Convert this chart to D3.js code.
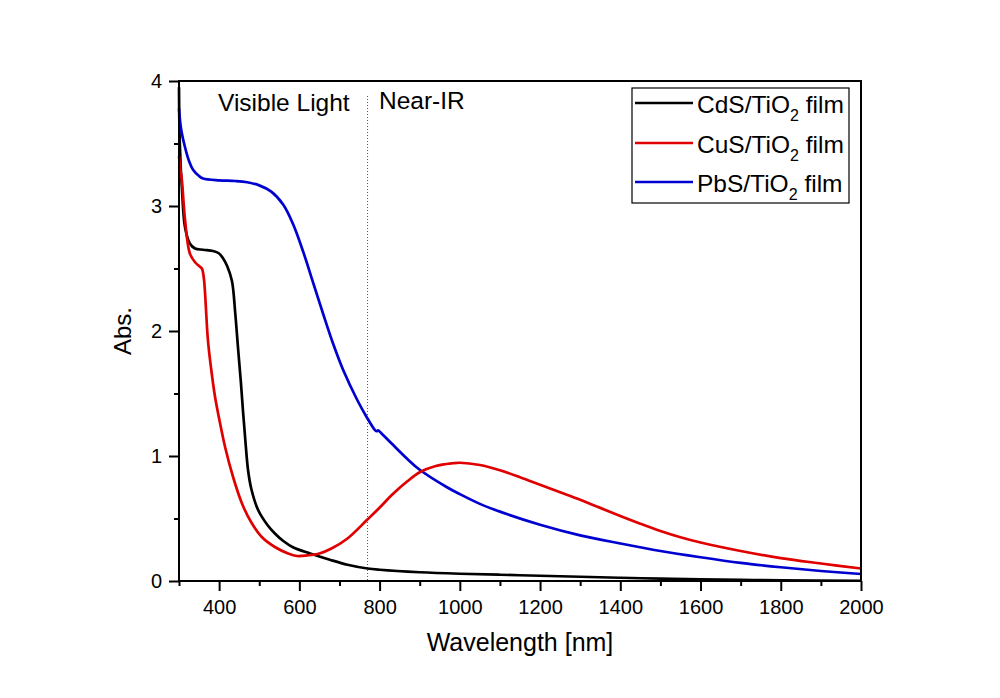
<!DOCTYPE html>
<html><head><meta charset="utf-8">
<script src="https://cdn.jsdelivr.net/npm/d3@7"></script>
<style>
html,body{margin:0;padding:0;background:#fff;}
svg{display:block;font-family:"Liberation Sans",Arial,sans-serif;}
</style></head>
<body><svg id="c" width="1000" height="698"></svg>
<script>
// ---- data ----
const seriesNames = ["CdS/TiO", "CuS/TiO", "PbS/TiO"];
const seriesColors = ["#000000", "#e00000", "#0000d0"];
const cdsWl  = [300,302,308,315,327,340,360,385,400,410,420,432,440,447,454,460,466,472,480,497,520,539,560,584,627,676,720,770,800,900,1000,1100,1200,1300,1400,1500,1600,1700,1800,2000];
const cdsAbs = [3.95,3.5,3.1,2.83,2.70,2.66,2.65,2.64,2.62,2.58,2.52,2.40,2.15,1.87,1.60,1.34,1.10,0.89,0.74,0.57,0.45,0.38,0.32,0.27,0.22,0.17,0.13,0.10,0.09,0.07,0.058,0.05,0.042,0.034,0.026,0.019,0.013,0.009,0.005,0.002];
const cusWl  = [300,303,307,315,327,340,350,357,362,365,372,380,390,400,415,435,457,480,507,540,572,594,620,650,680,720,769,801,831,870,900,940,983,1000,1050,1100,1150,1200,1250,1300,1350,1400,1450,1500,1550,1600,1700,1800,1900,2000];
const cusAbs = [3.40,3.30,3.21,2.89,2.62,2.55,2.52,2.50,2.42,2.30,1.93,1.70,1.47,1.30,1.07,0.83,0.62,0.47,0.35,0.27,0.22,0.20,0.205,0.22,0.26,0.34,0.49,0.59,0.69,0.80,0.87,0.92,0.942,0.946,0.928,0.886,0.83,0.77,0.71,0.65,0.585,0.52,0.458,0.40,0.35,0.308,0.24,0.183,0.14,0.10];
const pbsWl  = [300,305,315,325,335,350,360,400,440,470,500,530,560,585,610,635,659,684,709,744,768,789,793,796,805,830,868,900,968,1000,1050,1100,1200,1300,1400,1500,1600,1700,1800,1900,2000];
const pbsAbs = [3.78,3.62,3.47,3.36,3.29,3.24,3.22,3.205,3.20,3.19,3.165,3.115,3.01,2.85,2.63,2.38,2.14,1.90,1.69,1.45,1.31,1.205,1.198,1.205,1.18,1.10,0.98,0.89,0.75,0.695,0.617,0.555,0.45,0.365,0.30,0.24,0.19,0.145,0.11,0.08,0.056];
const xMajor = [400,600,800,1000,1200,1400,1600,1800,2000];
const xMinor = [300,500,700,900,1100,1300,1500,1700,1900];
const yMajor = [0,1,2,3,4];
const yMinor = [0.5,1.5,2.5,3.5];
const boundaryWl = 770;
const regionLabels = ["Visible Light", "Near-IR"];

// ---- layout ----
const svg = d3.select("#c");
const L = 179, R = 861, T = 81, B = 581;
const x = d3.scaleLinear().domain([300, 2000]).range([L, R]);
const y = d3.scaleLinear().domain([0, 4]).range([B, T]);

const series = [
  {name: seriesNames[0], color: seriesColors[0], pts: cdsWl.map((w,i)=>[w, cdsAbs[i]])},
  {name: seriesNames[1], color: seriesColors[1], pts: cusWl.map((w,i)=>[w, cusAbs[i]])},
  {name: seriesNames[2], color: seriesColors[2], pts: pbsWl.map((w,i)=>[w, pbsAbs[i]])}
];

// dotted boundary
svg.append("line")
  .attr("x1", x(boundaryWl)).attr("x2", x(boundaryWl))
  .attr("y1", 96).attr("y2", B)
  .attr("stroke", "#9a3535").attr("stroke-width", 1)
  .attr("stroke-dasharray", "1,2");

// curves
const line = d3.line().x(d=>x(d[0])).y(d=>y(d[1])).curve(d3.curveCatmullRom.alpha(0.5));
svg.append("g").selectAll("path").data([series[0], series[2], series[1]]).join("path")
  .attr("d", d=>line(d.pts))
  .attr("fill", "none").attr("stroke", d=>d.color)
  .attr("stroke-width", 2.7).attr("stroke-linejoin", "round");

// frame
svg.append("rect").attr("x", L).attr("y", T).attr("width", R-L).attr("height", B-T)
  .attr("fill", "none").attr("stroke", "#000").attr("stroke-width", 2);

// axes
const fs = 20;
const gx = svg.append("g").attr("transform", `translate(0,${B})`)
  .call(d3.axisBottom(x).tickValues(xMajor).tickSize(10).tickPadding(9).tickFormat(d3.format("d")));
const gxm = svg.append("g").attr("transform", `translate(0,${B})`)
  .call(d3.axisBottom(x).tickValues(xMinor).tickSize(5).tickFormat(""));
const gy = svg.append("g").attr("transform", `translate(${L},0)`)
  .call(d3.axisLeft(y).tickValues(yMajor).tickSize(10).tickPadding(7).tickFormat(d3.format("d")));
const gym = svg.append("g").attr("transform", `translate(${L},0)`)
  .call(d3.axisLeft(y).tickValues(yMinor).tickSize(5).tickFormat(""));
[gx, gxm, gy, gym].forEach(g => {
  g.select(".domain").remove();
  g.selectAll(".tick line").attr("stroke", "#000").attr("stroke-width", 2);
  g.selectAll("text").attr("font-family", "Liberation Sans, Arial, sans-serif")
    .attr("font-size", fs).attr("fill", "#000");
});

// axis titles
svg.append("text").attr("x", (L+R)/2).attr("y", 651).attr("text-anchor", "middle")
  .attr("font-size", 25).text("Wavelength [nm]");
svg.append("text").attr("transform", `translate(131,${(T+B)/2}) rotate(-90)`)
  .attr("text-anchor", "middle").attr("font-size", 24).text("Abs.");

// region labels
svg.append("text").attr("x", 218).attr("y", 111).attr("font-size", 24.5).text(regionLabels[0]);
svg.append("text").attr("x", 379).attr("y", 109).attr("font-size", 24.5).text(regionLabels[1]);

// legend
const lg = svg.append("g");
lg.append("rect").attr("x", 632).attr("y", 88).attr("width", 217).attr("height", 115)
  .attr("fill", "#fff").attr("stroke", "#000").attr("stroke-width", 1.2);
const rowY = [103, 143, 182];
series.forEach((s, i) => {
  lg.append("line").attr("x1", 635).attr("x2", 693).attr("y1", rowY[i]).attr("y2", rowY[i])
    .attr("stroke", s.color).attr("stroke-width", 2.7);
  const t = lg.append("text").attr("x", 697).attr("y", rowY[i] + 10).attr("font-size", 24.5);
  t.append("tspan").text(s.name);
  t.append("tspan").attr("font-size", 16).attr("dy", 8).text("2");
  t.append("tspan").attr("dy", -8).text(" film");
});
</script></body></html>
